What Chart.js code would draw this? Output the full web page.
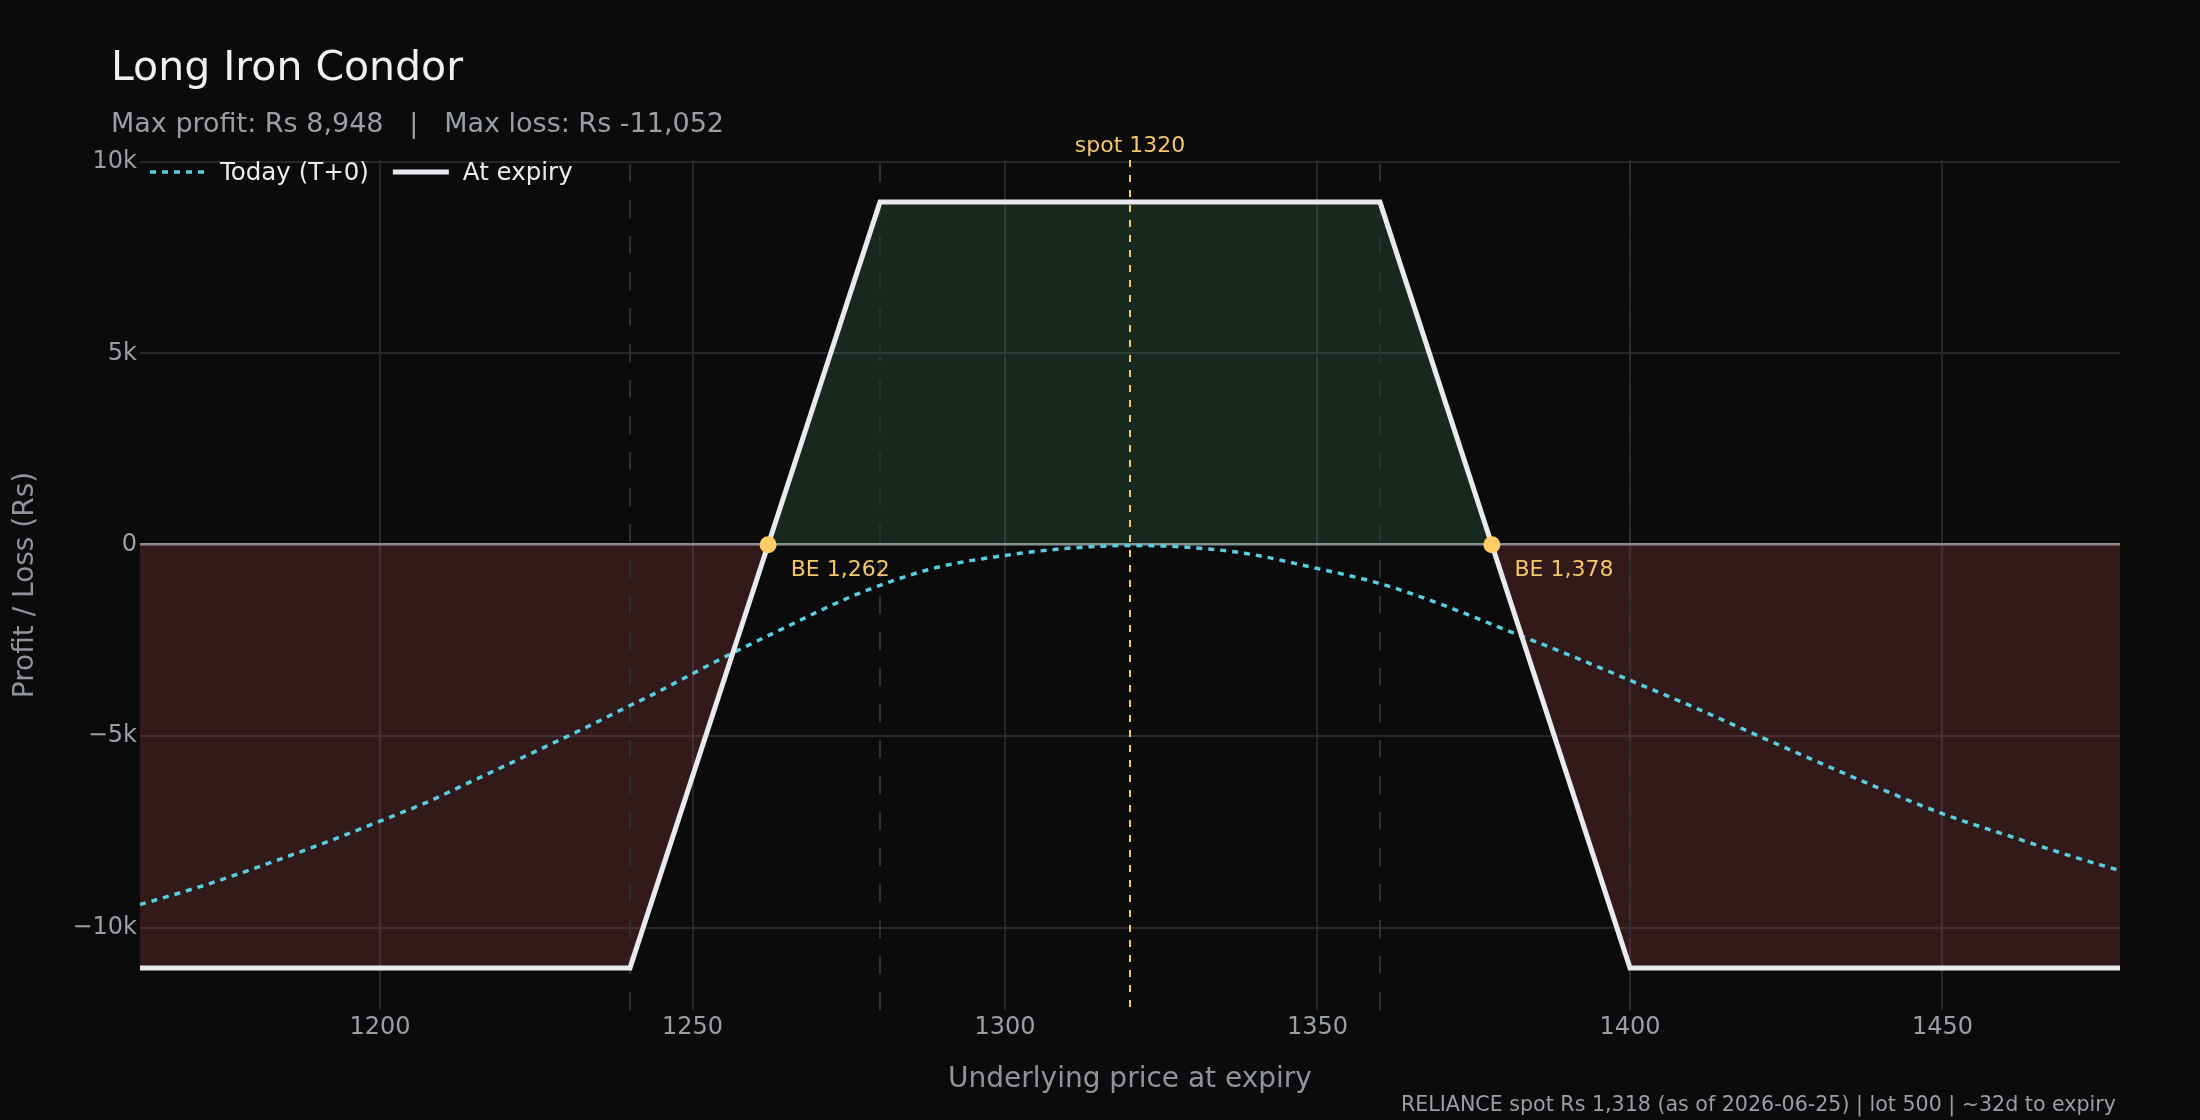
<!DOCTYPE html>
<html>
<head>
<meta charset="utf-8">
<title>Long Iron Condor</title>
<script src="https://cdn.jsdelivr.net/npm/chart.js@4.4.1/dist/chart.umd.min.js"></script>
<style>
  html, body { margin: 0; padding: 0; background: #0b0b0c; }
  #wrap { width: 2200px; height: 1120px; position: relative; }
</style>
</head>
<body>
<div id="wrap"><canvas id="pnlChart"></canvas></div>
<script>
// --- chart values ---
const spot = 1320;
const strikes = [1240, 1280, 1360, 1400];
const xRange = [1161.6, 1478.4];
const yRange = [-12152, 10048];
const xTicks = [1200, 1250, 1300, 1350, 1400, 1450];
const yTicks = [-10000, -5000, 0, 5000, 10000];
const yTickLabels = ['\u221210k', '\u22125k', '0', '5k', '10k'];

// payoff at expiry (vertices)
const expiryPrices = [1161.6, 1240, 1262.1, 1280, 1360, 1377.9, 1400, 1478.4];
const expiryPnl = [-11052, -11052, 0, 8948, 8948, 0, -11052, -11052];

// today (T+0) curve
const todayPrices = [1161.6, 1171.8, 1182.0, 1192.2, 1200.0, 1207.6, 1212.7, 1222.9, 1233.1, 1240.0,
  1243.3, 1253.5, 1257.0, 1263.7, 1273.9, 1280.0, 1289.2, 1300.0, 1309.6, 1320.0,
  1328.6, 1338.8, 1349.0, 1360.1, 1369.5, 1379.6, 1389.8, 1400.0, 1410.3, 1420.5,
  1430.7, 1440.9, 1450.1, 1461.3, 1471.5, 1478.4];
const todayPnl = [-9400, -8900, -8330, -7720, -7220, -6720, -6330, -5550, -4760, -4200,
  -3940, -3070, -2780, -2250, -1460, -1060, -590, -280, -100, -20,
  -60, -235, -585, -1020, -1540, -2190, -2850, -3540, -4250, -4990,
  -5720, -6430, -7030, -7640, -8180, -8510];

const breakevens = [1262.1, 1377.9];
const breakevenLabels = ['BE 1,262', 'BE 1,378'];

const titleText = 'Long Iron Condor';
const subtitleText = 'Max profit: Rs 8,948   |   Max loss: Rs -11,052';
const footerText = 'RELIANCE spot Rs 1,318 (as of 2026-06-25) | lot 500 | ~32d to expiry';

const FONT = '"DejaVu Sans", "Noto Sans", sans-serif';
const gridColor = '#26262c';
const zeroColor = '#8b8e96';
const mutedText = '#9a9ea7';
const gold = '#f6c76a';

const toPts = (xs, ys) => xs.map((x, i) => ({x: x, y: ys[i]}));
const vLine = (x) => [{x: x, y: yRange[1]}, {x: x, y: yRange[0]}];

const datasets = [
  {
    label: 'Breakeven',
    data: breakevens.map(x => ({x: x, y: 0})),
    showLine: false,
    pointRadius: 8.5,
    pointBackgroundColor: '#ffcc66',
    pointBorderWidth: 0
  },
  {
    label: 'At expiry',
    legend: true,
    data: toPts(expiryPrices, expiryPnl),
    showLine: true,
    borderColor: '#ebe9f0',
    borderWidth: 5,
    pointRadius: 0,
    fill: {target: 'origin', above: 'rgba(80,180,120,0.18)', below: 'rgba(230,90,95,0.18)'}
  },
  {
    label: 'Today (T+0)',
    legend: true,
    data: toPts(todayPrices, todayPnl),
    showLine: true,
    borderColor: '#56cfe1',
    borderWidth: 3.5,
    borderDash: [6, 6],
    cubicInterpolationMode: 'monotone',
    pointRadius: 0,
    fill: false
  },
  {
    label: 'spot',
    data: vLine(spot),
    showLine: true,
    borderColor: gold,
    borderWidth: 2,
    borderDash: [7, 8],
    pointRadius: 0
  }
].concat(strikes.map(k => ({
  label: 'strike ' + k,
  data: vLine(k),
  showLine: true,
  borderColor: '#2e2e35',
  borderWidth: 2,
  borderDash: [18, 18],
  borderDashOffset: -4,
  pointRadius: 0
})));

// background, titles, legend, annotations
const overlay = {
  id: 'overlay',
  beforeDraw(chart) {
    const ctx = chart.ctx;
    ctx.save();
    ctx.fillStyle = '#0b0b0c';
    ctx.fillRect(0, 0, chart.width, chart.height);
    ctx.restore();
  },
  afterDraw(chart) {
    const ctx = chart.ctx;
    const xs = chart.scales.x, ys = chart.scales.y;
    ctx.save();
    ctx.textBaseline = 'alphabetic';
    ctx.textAlign = 'left';

    ctx.fillStyle = '#f0f0f2';
    ctx.font = '41px ' + FONT;
    ctx.fillText(titleText, 111, 80);

    ctx.fillStyle = mutedText;
    ctx.font = '27px ' + FONT;
    ctx.fillText(subtitleText, 111, 132);

    // legend
    ctx.font = '24.5px ' + FONT;
    let lx = 150;
    chart.data.datasets.filter(d => d.legend).reverse().forEach(d => {
      ctx.strokeStyle = d.borderColor;
      ctx.lineWidth = d.borderWidth;
      ctx.setLineDash(d.borderDash || []);
      ctx.beginPath();
      ctx.moveTo(lx, 172);
      ctx.lineTo(lx + 56, 172);
      ctx.stroke();
      ctx.setLineDash([]);
      ctx.fillStyle = '#ececee';
      ctx.fillText(d.label, lx + 70, 180);
      lx += 70 + ctx.measureText(d.label).width + 24;
    });

    // spot label
    ctx.fillStyle = gold;
    ctx.font = '22px ' + FONT;
    ctx.textAlign = 'center';
    ctx.fillText('spot ' + spot, xs.getPixelForValue(spot), 152);

    // breakeven labels
    ctx.textAlign = 'left';
    breakevens.forEach((b, i) => {
      ctx.fillText(breakevenLabels[i], xs.getPixelForValue(b) + 22.6, ys.getPixelForValue(0) + 31.5);
    });

    // footer
    ctx.fillStyle = mutedText;
    ctx.font = '20.6px ' + FONT;
    ctx.textAlign = 'right';
    ctx.fillText(footerText, 2116, 1111);
    ctx.restore();
  }
};

new Chart(document.getElementById('pnlChart'), {
  type: 'scatter',
  data: {datasets: datasets},
  options: {
    responsive: true,
    maintainAspectRatio: false,
    animation: false,
    layout: {padding: {top: 160, right: 80, bottom: 0, left: 0}},
    plugins: {
      legend: {display: false},
      tooltip: {enabled: false},
      filler: {drawTime: 'beforeDatasetsDraw'}
    },
    scales: {
      x: {
        type: 'linear',
        min: xRange[0],
        max: xRange[1],
        afterBuildTicks: s => { s.ticks = xTicks.map(v => ({value: v})); },
        afterFit: s => { s.height = 110; },
        ticks: {
          color: mutedText,
          font: {family: FONT, size: 24},
          padding: 3,
          maxRotation: 0,
          callback: v => String(v)
        },
        grid: {color: gridColor, lineWidth: 2, drawTicks: false},
        border: {display: false},
        title: {
          display: true,
          text: 'Underlying price at expiry',
          color: '#8f949c',
          font: {family: FONT, size: 28},
          padding: {top: 0, bottom: 23}
        }
      },
      y: {
        type: 'linear',
        min: yRange[0],
        max: yRange[1],
        afterBuildTicks: s => { s.ticks = yTicks.map(v => ({value: v})); },
        afterFit: s => { s.width = 140; },
        ticks: {
          color: mutedText,
          font: {family: FONT, size: 24},
          padding: 3,
          callback: v => yTickLabels[yTicks.indexOf(v)]
        },
        grid: {
          color: c => (c.tick && c.tick.value === 0) ? zeroColor : gridColor,
          lineWidth: c => (c.tick && c.tick.value === 0) ? 2.5 : 2,
          drawTicks: false
        },
        border: {display: false},
        title: {
          display: true,
          text: 'Profit / Loss (Rs)',
          color: '#8f949c',
          font: {family: FONT, size: 28},
          padding: {top: 9, bottom: 0}
        }
      }
    }
  },
  plugins: [overlay]
});
</script>
</body>
</html>
